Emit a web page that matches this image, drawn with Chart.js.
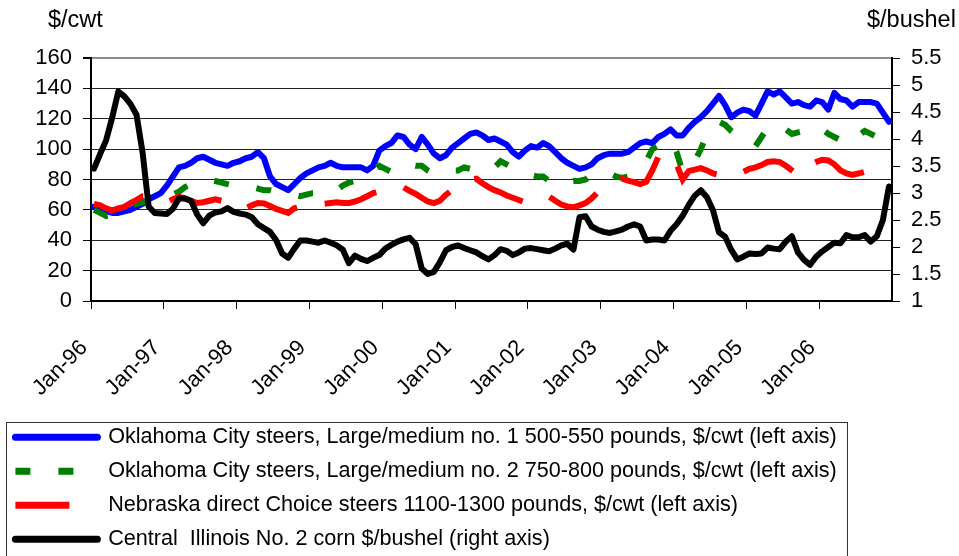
<!DOCTYPE html>
<html>
<head>
<meta charset="utf-8">
<script src="https://cdn.jsdelivr.net/npm/chart.js@4.4.0/dist/chart.umd.min.js"></script>
<style>
  html, body { margin: 0; padding: 0; background: #fff; }
  #wrap { width: 959px; height: 556px; position: relative; }
</style>
</head>
<body>
<div id="wrap"><canvas id="chart"></canvas></div>
<script>
// monthly series, Jan-96 .. Dec-06
const months = ['Jan', 'Feb', 'Mar', 'Apr', 'May', 'Jun', 'Jul', 'Aug', 'Sep', 'Oct', 'Nov', 'Dec'];
const years = ['96', '97', '98', '99', '00', '01', '02', '03', '04', '05', '06'];
const categories = [];
years.forEach(y => months.forEach(m => categories.push(m + '-' + y)));

const seriesNames = [
  'Oklahoma City steers, Large/medium no. 1 500-550 pounds, $/cwt (left axis)',
  'Oklahoma City steers, Large/medium no. 2 750-800 pounds, $/cwt (left axis)',
  'Nebraska direct Choice steers 1100-1300 pounds, $/cwt (left axis)',
  'Central  Illinois No. 2 corn $/bushel (right axis)'
];

const okcLight = [
  62, 61, 59, 58, 58, 59, 60, 62, 64, 67, 69, 71,
  76, 82, 88, 89, 91, 94, 95, 93, 91, 90, 89, 91,
  92, 94, 95, 98, 94, 82, 77, 75, 73, 77, 81, 84,
  86, 88, 89, 91, 89, 88, 88, 88, 88, 86, 89, 99,
  102, 104, 109, 108, 103, 100, 108, 103, 97, 94, 96, 101,
  104, 107, 110, 111, 109, 106, 107, 105, 103, 98, 95, 99,
  102, 101, 104, 102, 98, 94, 91, 89, 87, 88, 90, 94,
  96, 97, 97, 97, 98, 101, 104, 105, 104, 108, 110, 113,
  109, 109, 114, 118, 121, 125, 130, 135, 129, 121, 124, 126,
  125, 122, 130, 138, 136, 138, 134, 130, 131, 129, 128, 132,
  131, 126, 137, 133, 132, 128, 131, 131, 131, 130, 124, 118
];

const okcHeavy = [
  60, 58, 56, 57, 58, 60, 62, 64, 65, 66, 67, 68,
  69, 70, 72, 75, 77, 78, 79, 80, 79, 78, 77, 76,
  76, 76, 75, 74, 73, 73, 72, 71, 70, 70, 69, 70,
  71, 71, 72, 72, 73, 76, 78, 79, 80, 82, 86, 89,
  87, 85, 87, 90, 90, 89, 89, 86, 84, 84, 85, 86,
  86, 88, 87, 86, 85, 86, 88, 92, 90, 88, 86, 84,
  83, 82, 82, 79, 76, 77, 78, 79, 79, 80, 83, 85,
  85, 84, 82, 81, 82, 85, 88, 92, 100, 102, 104, 106,
  98, 85, 88, 92, 100, 110, 114, 118, 116, 112, 109, 107,
  105, 102, 108, 114, 116, 116, 113, 110, 111, 112, 114, 115,
  113, 110, 108, 106, 105, 104, 109, 112, 110, 108, 106, 102
];

const nebraska = [
  64, 63, 61, 59.5, 61, 62, 64.5, 66.5, 69, 69, 67, 66,
  65, 67, 68.5, 67.5, 66, 64.5, 65, 66, 67, 66, 64, 62,
  61, 61, 63, 64.5, 64.3, 62.5, 60.6, 59.3, 58, 61, 62, 63,
  63, 64, 64, 64.5, 65, 64.5, 64.5, 65.5, 67, 69, 71, 72,
  73, 74, 75, 74.8, 72.5, 70.5, 68, 65.5, 64.5, 66, 70, 73,
  76, 78, 80, 80.5, 77.5, 75, 73, 71.5, 69.5, 68, 66.5, 65,
  65, 66, 67, 68.7, 66, 63.5, 62.3, 61.7, 63, 64.5, 67.5, 71.5,
  74, 76, 78, 80.5, 79.3, 78.3, 77, 78.5, 86, 95, 97, 97,
  90, 80, 85.5, 86.5, 87.5, 86, 84, 83, 82, 83.5, 84, 85,
  87, 88, 89.5, 91.5, 92, 91.5, 89, 86, 83, 86.5, 89.5, 91.5,
  93, 92.5, 90, 86, 84, 83, 84, 85, 87, 89, 88, 87
];

const corn = [
  3.45, 3.72, 3.98, 4.4, 4.88, 4.79, 4.65, 4.45, 3.75, 2.75, 2.63, 2.62,
  2.61, 2.71, 2.9, 2.9, 2.85, 2.6, 2.44, 2.58, 2.64, 2.66, 2.72, 2.65,
  2.62, 2.6, 2.55, 2.42, 2.35, 2.28, 2.13, 1.88, 1.8, 1.97, 2.12, 2.12,
  2.1, 2.08, 2.12, 2.08, 2.03, 1.95, 1.7, 1.84, 1.78, 1.74, 1.8, 1.85,
  1.97, 2.04, 2.1, 2.14, 2.17, 2.05, 1.6, 1.5, 1.54, 1.72, 1.94, 2.0,
  2.03, 1.98, 1.94, 1.9, 1.83, 1.77, 1.85, 1.96, 1.93, 1.85, 1.9, 1.97,
  1.98, 1.96, 1.94, 1.92, 1.97, 2.03, 2.06, 1.95, 2.55, 2.57, 2.38, 2.32,
  2.28, 2.26, 2.29, 2.32, 2.38, 2.42, 2.38, 2.12, 2.14, 2.14, 2.12, 2.3,
  2.42, 2.58, 2.78, 2.95, 3.05, 2.92, 2.68, 2.27, 2.19, 1.95, 1.77, 1.82,
  1.88, 1.87, 1.88, 1.99, 1.97, 1.96, 2.1, 2.2, 1.9, 1.76, 1.67, 1.82,
  1.92, 2.0, 2.08, 2.07, 2.22, 2.18, 2.18, 2.22, 2.1, 2.2, 2.5, 3.12
];

const leftTitle = '$/cwt';
const rightTitle = '$/bushel';

const FONT = '"Liberation Sans", Arial, sans-serif';
Chart.defaults.font.family = FONT;
Chart.defaults.color = '#000';

// unit captions above both axes
const axisTitles = {
  id: 'axisTitles',
  afterDraw(chart) {
    const { ctx, chartArea } = chart;
    ctx.save();
    ctx.font = '23.5px ' + FONT;
    ctx.fillStyle = '#000';
    ctx.textBaseline = 'middle';
    ctx.textAlign = 'left';
    ctx.fillText(leftTitle, chartArea.left - 43, 21);
    ctx.fillText(rightTitle, chartArea.right - 25, 21);
    ctx.restore();
  }
};

// frame round the legend block
const legendFrame = {
  id: 'legendFrame',
  afterDraw(chart) {
    const lg = chart.legend;
    const ctx = chart.ctx;
    ctx.save();
    ctx.strokeStyle = '#333';
    ctx.lineWidth = 1;
    ctx.strokeRect(lg.left + 3.5, lg.top + 8.5, 841, 200);
    ctx.restore();
  }
};

// legend samples keep the dataset's own dash and cap
const legendLabels = chart => {
  const items = Chart.defaults.plugins.legend.labels.generateLabels(chart);
  items.forEach(it => {
    const ds = chart.data.datasets[it.datasetIndex];
    it.lineDash = ds.borderDash || [];
    it.lineCap = ds.borderCapStyle;
    it.lineWidth = 7;
  });
  return items;
};

const ctx = document.getElementById('chart').getContext('2d');
new Chart(ctx, {
  type: 'line',
  data: {
    labels: categories,
    datasets: [
      {
        label: seriesNames[0], data: okcLight, yAxisID: 'y',
        borderColor: '#0000FF', backgroundColor: '#0000FF',
        borderWidth: 6, borderCapStyle: 'round', borderJoinStyle: 'round', order: 4
      },
      {
        label: seriesNames[1], data: okcHeavy, yAxisID: 'y',
        borderColor: '#008000', backgroundColor: '#008000',
        borderWidth: 6, borderDash: [15, 28], borderCapStyle: 'butt', order: 3
      },
      {
        label: seriesNames[2], data: nebraska, yAxisID: 'y',
        borderColor: '#FF0000', backgroundColor: '#FF0000',
        borderWidth: 6, borderDash: [54, 28], borderCapStyle: 'butt', order: 2
      },
      {
        label: seriesNames[3], data: corn, yAxisID: 'y1',
        borderColor: '#000000', backgroundColor: '#000000',
        borderWidth: 6, borderCapStyle: 'round', borderJoinStyle: 'round', order: 1
      }
    ]
  },
  options: {
    responsive: true,
    maintainAspectRatio: false,
    animation: false,
    elements: {
      point: { radius: 0, hoverRadius: 0 },
      line: { tension: 0, fill: false }
    },
    layout: { padding: { top: 58, left: 3, right: 0, bottom: -4 } },
    plugins: {
      tooltip: { enabled: false },
      legend: {
        position: 'bottom',
        align: 'start',
        labels: {
          usePointStyle: true,
          pointStyle: 'line',
          pointStyleWidth: 82,
          padding: 12.4,
          color: '#000',
          font: { size: 21.6 },
          generateLabels: legendLabels,
          sort: (a, b) => a.datasetIndex - b.datasetIndex
        }
      }
    },
    scales: {
      x: {
        type: 'category',
        offset: true,
        afterFit: s => { s.height = 113; },
        grid: {
          drawOnChartArea: false,
          offset: true,
          tickLength: 8,
          color: c => (c.index % 12 === 0 ? '#000' : 'rgba(0,0,0,0)')
        },
        border: { color: '#000', width: 2 },
        ticks: {
          autoSkip: false,
          maxRotation: 45,
          minRotation: 45,
          labelOffset: -10,
          padding: 26,
          color: '#000',
          font: { size: 22 },
          callback: function (v, i) { return i % 12 === 0 ? this.getLabelForValue(v) : ''; }
        }
      },
      y: {
        position: 'left',
        min: 0,
        max: 160,
        afterFit: s => { s.width = 88; },
        ticks: { stepSize: 20, autoSkip: false, padding: 11, color: '#000', font: { size: 22 } },
        grid: {
          color: c => (c.tick && c.tick.value === 160 ? '#8c8c8c' : '#222'),
          lineWidth: c => (c.tick && c.tick.value === 160 ? 2 : 1),
          tickColor: '#000',
          tickLength: 8
        },
        border: { color: '#000', width: 2 }
      },
      y1: {
        position: 'right',
        min: 1,
        max: 5.5,
        afterFit: s => { s.width = 67; },
        ticks: {
          stepSize: 0.5, autoSkip: false, padding: 11, color: '#000', font: { size: 22 },
          callback: v => String(Number(v.toFixed(1)))
        },
        grid: { drawOnChartArea: false, color: '#000', tickLength: 8 },
        border: { color: '#000', width: 2 }
      }
    }
  },
  plugins: [axisTitles, legendFrame]
});
</script>
</body>
</html>
